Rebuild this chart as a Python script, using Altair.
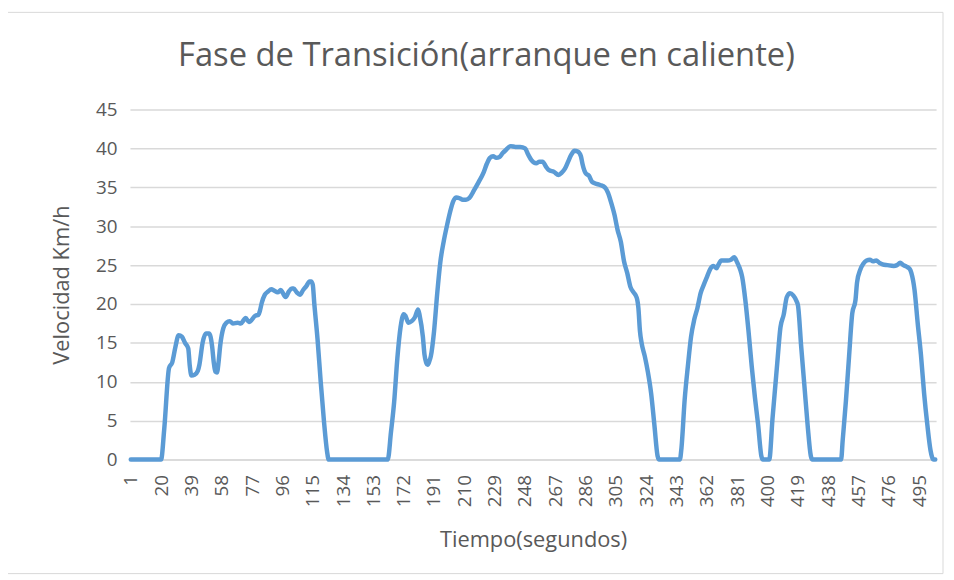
import altair as alt
import pandas as pd

# time (s) and speed (km/h)
tiempo = [1, 20, 22, 25, 27, 29, 31, 33, 35, 37, 38, 39, 41, 43, 44, 46, 48, 50, 51, 52, 53, 54, 55, 56, 57, 59,
          61, 63, 65, 68, 70, 72, 73, 75, 76, 79, 81, 82, 83, 85, 87, 89, 91, 93, 95, 96, 98, 100, 102, 103,
          105, 107, 109, 111, 113, 114, 115, 116, 118, 120, 122, 124, 125, 162, 164, 166, 168, 170, 172, 173,
          175, 177, 179, 181, 182, 184, 185, 186, 187, 188, 189, 191, 193, 195, 197, 199, 201, 203, 205, 207,
          209, 211, 213, 216, 219, 222, 224, 226, 228, 230, 232, 234, 236, 239, 242, 245, 248, 250, 252, 255,
          257, 259, 261, 263, 266, 269, 271, 273, 275, 277, 279, 281, 283, 284, 286, 288, 290, 292, 295, 298,
          300, 302, 304, 306, 308, 310, 312, 314, 316, 318, 319, 320, 321, 323, 325, 327, 329, 331, 332, 345,
          346, 348, 350, 352, 354, 356, 358, 360, 362, 364, 366, 368, 369, 371, 375, 377, 379, 381, 383, 384,
          386, 388, 390, 392, 394, 396, 397, 401, 403, 405, 406, 408, 410, 412, 414, 416, 418, 419, 421, 423,
          425, 427, 428, 446, 447, 449, 451, 453, 455, 456, 458, 460, 462, 464, 466, 468, 470, 472, 475, 479,
          481, 483, 485, 487, 489, 490, 492, 494, 496, 498, 500, 502, 503, 504, 505]
velocidad = [0, 0, 4, 11.8, 12.5, 14.5, 16.0, 15.8, 15.0, 14.3, 12.0, 10.8, 10.9, 11.4, 12.2, 15.0, 16.2, 16.2,
             15.8, 14.5, 12.5, 11.3, 11.2, 12.5, 14.6, 16.9,
             17.6, 17.8, 17.5, 17.6, 17.5, 18.0, 18.2, 17.7, 17.8, 18.5, 18.6, 19.2, 20.1, 21.2, 21.6, 21.9, 21.7,
             21.5, 21.8, 21.5, 20.9, 21.6, 22.0, 22.0,
             21.5, 21.2, 21.8, 22.3, 22.9, 22.9, 22.5, 20.0, 15.5, 10.0, 5.0, 1.0, 0, 0, 3.5, 7.4, 13.0, 17.0,
             18.7, 18.5,
             17.6, 17.8, 18.3, 19.3, 18.5, 15.8, 13.5, 12.5, 12.2, 12.6, 13.3, 16.5, 21.4, 25.5, 28.0, 30.0,
             31.8, 33.2, 33.7, 33.6,
             33.4, 33.4, 33.6, 34.6, 35.7, 36.9, 38.0, 38.8, 39.0, 38.8, 38.9, 39.4, 39.8, 40.3, 40.2, 40.2, 40.0,
             39.2, 38.5, 38.1,
             38.3, 38.3, 37.7, 37.2, 37.0, 36.6, 36.9, 37.4, 38.3, 39.2, 39.7, 39.6, 39.0, 38.0, 36.8, 36.5, 35.7,
             35.5, 35.3, 35.0,
             34.3, 33.0, 31.5, 29.5, 28.0, 25.5, 24.0, 22.2, 21.5, 20.8, 19.5, 16.5, 15.0, 13.3, 11.2, 8.5, 4.5,
             0.5, 0, 0,
             1.5, 7.7, 12.0, 15.8, 18.0, 19.5, 21.4, 22.5, 23.5, 24.5, 24.9, 24.6, 25.0, 25.6, 25.6, 25.7, 26.0,
             25.3, 24.3, 23.5,
             20.5, 16.5, 12.0, 8.0, 4.5, 0.5, 0, 0, 5.2, 10.0, 12.4, 17.0, 18.6, 20.9, 21.4, 21.1, 20.4, 19.8,
             14.5, 9.5,
             4.5, 0.5, 0, 0, 2.5, 7.5, 13.3, 18.8, 20.5, 22.8, 24.4, 25.2, 25.6, 25.7, 25.5, 25.6, 25.3, 25.1,
             25.0, 24.9,
             25.0, 25.3, 25.0, 24.8, 24.5, 24.0, 21.8, 17.5, 13.5, 8.5, 4.5, 1.2, 0.3, 0, 0]

x_ticks = [1, 20, 39, 58, 77, 96, 115, 134, 153, 172, 191, 210, 229, 248, 267, 286, 305, 324, 343, 362,
           381, 400, 419, 438, 457, 476, 495]
y_ticks = [0, 5, 10, 15, 20, 25, 30, 35, 40, 45]

df = pd.DataFrame({"t": tiempo, "v": velocidad})

FONT = "Open Sans"
GREY = "#595959"

line = alt.Chart(df).mark_line(
    color="#5b9bd5", strokeWidth=4.5, strokeCap="round", strokeJoin="round", interpolate="monotone"
).encode(
    x=alt.X("t:Q",
            scale=alt.Scale(domain=[0.5, 505.5], nice=False, zero=False),
            axis=alt.Axis(values=x_ticks, labelAngle=270, labelAlign="right", labelBaseline="middle",
                          title="Tiempo(segundos)", grid=False, ticks=False,
                          domain=True, domainColor="#d9d9d9", domainWidth=1.5,
                          labelPadding=15, titlePadding=23, labelFontSize=19, titleFontSize=22,
                          labelColor=GREY, titleColor=GREY, labelFont=FONT, titleFont=FONT,
                          titleFontWeight="normal", labelOverlap=False, labelFlush=False)),
    y=alt.Y("v:Q",
            scale=alt.Scale(domain=[0, 45], nice=False),
            axis=alt.Axis(values=y_ticks, title="Velocidad Km/h", grid=True, gridColor="#d9d9d9",
                          gridWidth=1.5, ticks=False, domain=False,
                          labelPadding=13, titlePadding=22, labelFontSize=19, titleFontSize=22,
                          labelColor=GREY, titleColor=GREY, labelFont=FONT, titleFont=FONT,
                          titleFontWeight="normal")),
)

border = alt.Chart(alt.Data(values=[{}])).mark_rect(
    fill=None, stroke="#d9d9d9", strokeWidth=1
).encode(
    x=alt.value(-124), x2=alt.value(820), y=alt.value(-98), y2=alt.value(468)
)

chart = alt.layer(border, line).properties(
    width=813,
    height=353,
    autosize=alt.AutoSizeParams(type="none"),
    padding={"left": 123, "top": 100, "right": 10, "bottom": 116},
    title=alt.TitleParams(
        "Fase de Transición(arranque en caliente)",
        font=FONT, fontSize=33, fontWeight="normal", color=GREY,
        anchor="middle", dx=-47, offset=-62
    ),
).configure_view(stroke=None)

chart.save("out.html", embed_options={"renderer": "svg", "actions": False})
